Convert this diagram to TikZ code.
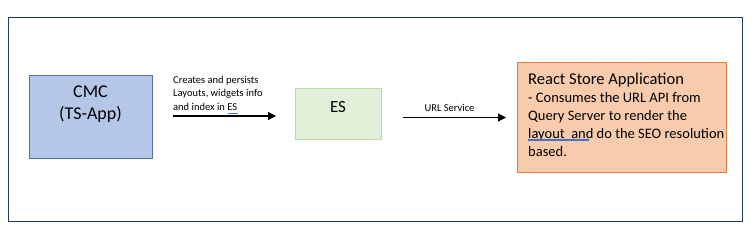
\documentclass[tikz,border=0pt]{standalone}
\usepackage{fontspec}
\setmainfont{Carlito}
\usetikzlibrary{arrows.meta,calc}
\definecolor{frame}{HTML}{203864}
\definecolor{cmcfill}{HTML}{B4C7E7}
\definecolor{cmcdraw}{HTML}{4F6FAF}
\definecolor{esfill}{HTML}{E2F0D9}
\definecolor{esdraw}{HTML}{B9DCA2}
\definecolor{rsfill}{HTML}{F8CBAD}
\definecolor{rsdraw}{HTML}{E57B35}
\definecolor{spell}{HTML}{4472C4}
\tikzset{
  box/.style={draw, line width=1pt, inner sep=0pt},
  conn/.style={line width=1.2pt, -{Triangle[length=8pt,width=8pt]}},
  small/.style={font=\fontsize{10.5}{13.5}\selectfont, inner sep=0pt, align=left}
}
\begin{document}
\begin{tikzpicture}[x=1pt,y=-1pt]
\useasboundingbox (0,0) rectangle (751,235);
\node[draw=frame, line width=1.4pt, minimum width=734pt, minimum height=204pt, anchor=north west, inner sep=0pt] (frame) at (8,17) {};
% CMC
\node[box, draw=cmcdraw, fill=cmcfill, minimum width=123pt, minimum height=83pt, anchor=north west] (cmc) at (29,75) {};
\node[font=\fontsize{18}{22}\selectfont, align=center, inner sep=0pt] (cmctext) at (90.5,104) {CMC\\(TS-App)};
% ES
\node[box, draw=esdraw, fill=esfill, minimum width=86pt, minimum height=51pt, anchor=north west] (es) at (295,88) {};
\node[font=\fontsize{17}{20}\selectfont, inner sep=0pt] (estext) at (338,107) {ES};
% React
\node[box, draw=rsdraw, fill=rsfill, minimum width=209pt, minimum height=110pt, anchor=north west] (rs) at (517,62) {};
\node[anchor=north west, inner sep=0pt, align=left, font=\fontsize{14.5}{18}\selectfont] (rstext) at (528,73)
  {{\fontsize{16.5}{18}\selectfont React Store Application}\\- Consumes the URL API from\\Query Server to render the\\layout\ \ and do the SEO resolution\\based.};
% connector 1
\draw[conn, shorten <=20pt, shorten >=19pt] (cmc.east |- 0,116) coordinate (a1s) -- (es.west |- 0,116) coordinate (a1e);
\node[small, anchor=north west] (lab1) at (173,76) {Creates and persists\\Layouts, widgets info\\and index in ES};
% connector 2
\draw[conn, shorten <=21pt, shorten >=11pt] (rs.west -| es.east) -- (rs.west);
\node[small, anchor=base] (lab2) at (449.5,111) {URL Service};
% spell-check underlines
\draw[spell, line width=0.6pt] (228,113) -- (238,113);
\draw[spell, line width=0.5pt] (528,139) -- (589,139);
\draw[spell, line width=0.5pt] (528,140.5) -- (589,140.5);
\end{tikzpicture}
\end{document}
